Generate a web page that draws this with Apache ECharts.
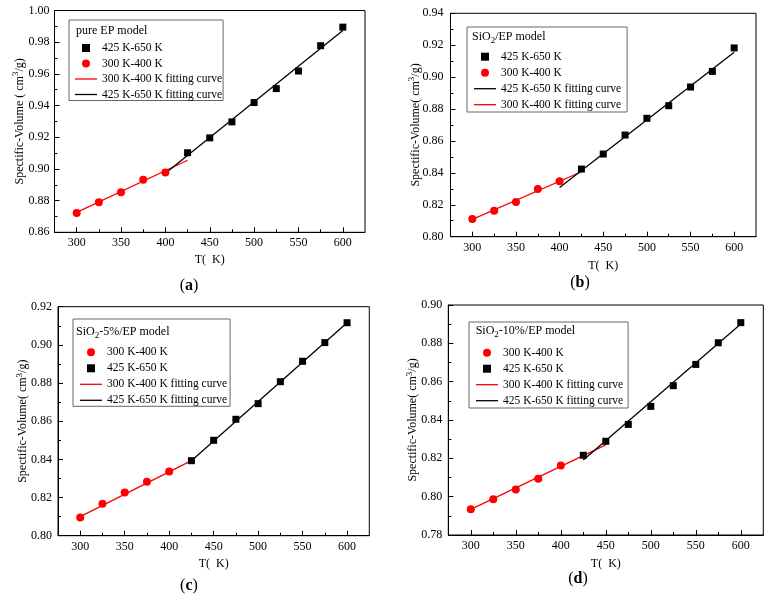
<!DOCTYPE html>
<html><head><meta charset="utf-8">
<script src="https://cdn.jsdelivr.net/npm/echarts@6/dist/echarts.min.js"></script>
<style>html,body{margin:0;padding:0;background:#fff}#c{width:769px;height:600px}</style>
</head><body><div id="c"></div>
<script>
// ---- data ----
const tempsLow = [300, 325, 350, 375, 400];
const tempsHigh = [425, 450, 475, 500, 525, 550, 575, 600];
const xTicks = [300, 350, 400, 450, 500, 550, 600];
const xMinorTicks = [325, 375, 425, 475, 525, 575];
const xMin = 275, xMax = 625;

// (a) pure EP
const aLow = [0.8722, 0.8790, 0.8853, 0.8931, 0.8977];
const aHigh = [0.9102, 0.9196, 0.9297, 0.9419, 0.9507, 0.9618, 0.9778, 0.9895];
const aFitLowX = [300, 425], aFitLowY = [0.8726, 0.9055];
const aFitHighX = [400, 600], aFitHighY = [0.8972, 0.9874];
// (b) SiO2/EP
const bLow = [0.8111, 0.8163, 0.8217, 0.8299, 0.8347];
const bHigh = [0.8424, 0.8518, 0.8637, 0.8742, 0.8821, 0.8938, 0.9036, 0.9183];
const bFitLowX = [300, 425], bFitLowY = [0.8108, 0.8407];
const bFitHighX = [400, 600], bFitHighY = [0.8309, 0.9156];
// (c) SiO2-5%/EP
const cLow = [0.8096, 0.8168, 0.8227, 0.8283, 0.8337];
const cHigh = [0.8393, 0.8500, 0.8610, 0.8692, 0.8807, 0.8914, 0.9012, 0.9116];
const cFitLowX = [300, 425], cFitLowY = [0.8100, 0.8393];
const cFitHighX = [425, 600], cFitHighY = [0.8393, 0.9116];
// (d) SiO2-10%/EP
const dLow = [0.7934, 0.7986, 0.8038, 0.8094, 0.8162];
const dHigh = [0.8216, 0.8289, 0.8377, 0.8471, 0.8579, 0.8690, 0.8803, 0.8908];
const dFitLowX = [300, 450], dFitLowY = [0.7934, 0.8270];
const dFitHighX = [425, 600], dFitHighY = [0.8191, 0.8901];

const yRanges = [[0.86, 1.00], [0.80, 0.94], [0.80, 0.92], [0.78, 0.90]];
const modelTitles = ['pure EP model', '{t|SiO}{s|2}{t|/EP model}', '{t|SiO}{s|2}{t|-5%/EP model}', '{t|SiO}{s|2}{t|-10%/EP model}'];
const panelTags = ['a', 'b', 'c', 'd'];
const nHigh = '425 K-650 K', nLow = '300 K-400 K';
const nFitHigh = '425 K-650 K fitting curve', nFitLow = '300 K-400 K fitting curve';
const legendOrders = [
  [nHigh, nLow, nFitLow, nFitHigh],
  [nHigh, nLow, nFitHigh, nFitLow],
  [nLow, nHigh, nFitLow, nFitHigh],
  [nLow, nHigh, nFitLow, nFitHigh]
];
const yNames = ['Spectific-Volume ( cm{s|3}/g)', 'Spectific-Volume( cm{s|3}/g)', 'Spectific-Volume( cm{s|3}/g)', 'Spectific-Volume( cm{s|3}/g)'];

const lows = [aLow, bLow, cLow, dLow], highs = [aHigh, bHigh, cHigh, dHigh];
const fitLowXs = [aFitLowX, bFitLowX, cFitLowX, dFitLowX], fitLowYs = [aFitLowY, bFitLowY, cFitLowY, dFitLowY];
const fitHighXs = [aFitHighX, bFitHighX, cFitHighX, dFitHighX], fitHighYs = [aFitHighY, bFitHighY, cFitHighY, dFitHighY];

// ---- layout / style ----
const FONT = "'Liberation Serif', 'DejaVu Serif', serif";
const SQUARE_ICON = 'path://M0,0H10V10H0Z';
const LINE_ICON = 'path://M0,0H22V1.3H0Z';
const legendIcons = {};
legendIcons[nHigh] = SQUARE_ICON;
legendIcons[nLow] = 'circle';
legendIcons[nFitHigh] = LINE_ICON;
legendIcons[nFitLow] = LINE_ICON;

const layout = [
  {grid:{left:54.5, top:10.5, width:310.5, height:221.8}, xNameGap:22, yLabelMargin:5,
   legend:{left:69, top:20, padding:[22,1,0,6], itemGap:3.5}, title:[76,31], tag:[189,285.5]},
  {grid:{left:450.5, top:13.3, width:305.5, height:223.4}, xNameGap:23, yLabelMargin:7,
   legend:{left:467, top:27, padding:[23.7,6,1.3,7], itemGap:4}, title:[472,36.7], tag:[580,282.5]},
  {grid:{left:58, top:306.7, width:311.3, height:229}, xNameGap:22, yLabelMargin:6,
   legend:{left:73, top:319, padding:[27.3,3,0,7], itemGap:4}, title:[76,331.7], tag:[189,585.5]},
  {grid:{left:448.3, top:305, width:315, height:230}, xNameGap:23, yLabelMargin:6,
   legend:{left:469, top:322, padding:[24.7,5,1.3,7], itemGap:4}, title:[475.7,330.7], tag:[578,579]}
];

const zip = (xs, ys) => xs.map((x, i) => [x, ys[i]]);
const option = {animation:false, backgroundColor:'#fff', grid:[], xAxis:[], yAxis:[], series:[], legend:[], graphic:[]};

layout.forEach((L, i) => {
  option.grid.push(Object.assign({show:true, borderColor:'#000', borderWidth:1, backgroundColor:'transparent', containLabel:false, outerBoundsMode:'none'}, L.grid));
  const xi = option.xAxis.length;
  option.xAxis.push({
    gridIndex:i, type:'value', position:'bottom', min:xMin, max:xMax,
    axisLine:{show:true, onZero:false, lineStyle:{color:'#000', width:1}},
    axisTick:{show:true, inside:true, length:5, customValues:xTicks, lineStyle:{color:'#000', width:1}},
    axisLabel:{show:true, customValues:xTicks, color:'#000', fontFamily:FONT, fontSize:12, margin:5},
    splitLine:{show:false},
    name:'T(  K)', nameLocation:'middle', nameGap:L.xNameGap, nameMoveOverlap:false,
    nameTextStyle:{color:'#000', fontFamily:FONT, fontSize:12}
  });
  option.xAxis.push({
    gridIndex:i, type:'value', position:'bottom', min:xMin, max:xMax,
    axisLine:{show:false},
    axisTick:{show:true, inside:true, length:3, customValues:xMinorTicks, lineStyle:{color:'#000', width:1}},
    axisLabel:{show:false}, splitLine:{show:false}
  });
  option.yAxis.push({
    gridIndex:i, type:'value', position:'left', min:yRanges[i][0], max:yRanges[i][1], interval:0.02,
    axisLine:{show:true, onZero:false, lineStyle:{color:'#000', width:1}},
    axisTick:{show:true, inside:true, length:5, lineStyle:{color:'#000', width:1}},
    minorTick:{show:true, splitNumber:2, length:3, lineStyle:{color:'#000', width:1}},
    axisLabel:{color:'#000', fontFamily:FONT, fontSize:12, margin:L.yLabelMargin, formatter:v => v.toFixed(2)},
    splitLine:{show:false},
    name:yNames[i], nameLocation:'middle', nameGap:27, nameRotate:90, nameMoveOverlap:false,
    nameTextStyle:{color:'#000', fontFamily:FONT, fontSize:12, lineHeight:16,
      rich:{s:{fontSize:9, lineHeight:9, verticalAlign:'top', fontFamily:FONT, color:'#000'}}}
  });
  option.series.push(
    {type:'line', name:nFitLow, xAxisIndex:xi, yAxisIndex:i, data:zip(fitLowXs[i], fitLowYs[i]), symbol:'none',
     lineStyle:{color:'#f00', width:1.3}, itemStyle:{color:'#f00', opacity:1}, silent:true, z:2},
    {type:'line', name:nFitHigh, xAxisIndex:xi, yAxisIndex:i, data:zip(fitHighXs[i], fitHighYs[i]), symbol:'none',
     lineStyle:{color:'#000', width:1.3}, itemStyle:{color:'#000', opacity:1}, silent:true, z:2},
    {type:'scatter', name:nLow, xAxisIndex:xi, yAxisIndex:i, data:zip(tempsLow, lows[i]), symbol:'circle', symbolSize:8,
     itemStyle:{color:'#f00', opacity:1}, z:3},
    {type:'scatter', name:nHigh, xAxisIndex:xi, yAxisIndex:i, data:zip(tempsHigh, highs[i]), symbol:'rect', symbolSize:7,
     itemStyle:{color:'#000', opacity:1}, z:3}
  );
  option.legend.push({
    orient:'vertical', left:L.legend.left, top:L.legend.top, padding:L.legend.padding, itemGap:L.legend.itemGap,
    itemWidth:22, itemHeight:8, borderColor:'#666', borderWidth:1, backgroundColor:'#fff', borderRadius:0,
    selectedMode:false, z:5, symbolKeepAspect:true,
    itemStyle:{opacity:1},
    textStyle:{fontFamily:FONT, fontSize:11.5, lineHeight:12, color:'#000'},
    data:legendOrders[i].map(n => ({name:n, icon:legendIcons[n]}))
  });
  option.graphic.push({
    type:'text', x:L.title[0], y:L.title[1], z:100,
    style:{text:modelTitles[i], align:'left', verticalAlign:'middle', fontFamily:FONT, fontSize:12, lineHeight:16, fill:'#000',
      rich:{t:{fontFamily:FONT, fontSize:12, lineHeight:16, fill:'#000'}, s:{fontFamily:FONT, fontSize:9, lineHeight:9, verticalAlign:'bottom', fill:'#000'}}}
  });
  option.graphic.push({
    type:'text', x:L.tag[0], y:L.tag[1], z:100,
    style:{text:'{p|(}{b|' + panelTags[i] + '}{p|)}', align:'center', verticalAlign:'middle',
      rich:{p:{fontFamily:FONT, fontSize:16, fill:'#000'}, b:{fontFamily:FONT, fontSize:16, fontWeight:'bold', fill:'#000'}}}
  });
});

const chart = echarts.init(document.getElementById('c'), null, {renderer:'canvas'});
chart.setOption(option);
</script></body></html>
